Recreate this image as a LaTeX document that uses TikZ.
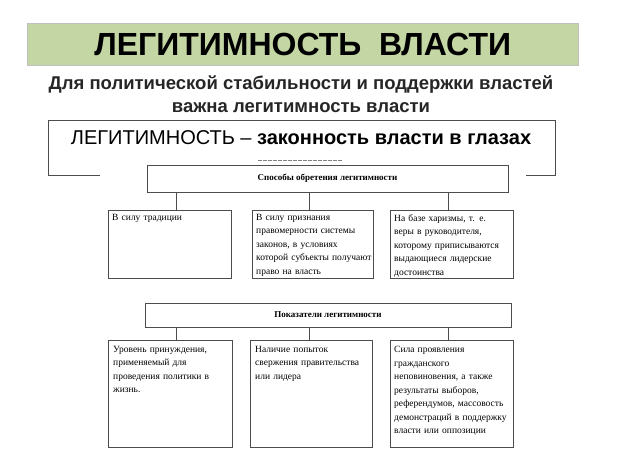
\documentclass[tikz,border=0pt]{standalone}
\usepackage{fontspec}
\setmainfont{Liberation Serif}
\newfontfamily\hsans{Liberation Sans}
\begin{document}
\begin{tikzpicture}[x=1pt,y=-1pt,
  hdr/.style={draw=black!70,line width=0.8pt,fill=white,font=\fontsize{9}{10}\selectfont\bfseries},
  boxr/.style={draw=black!70,line width=0.8pt,fill=white},
  txt/.style={anchor=north west,align=left,inner sep=0pt,font=\fontsize{9.5}{13.5}\selectfont,text width=#1},
  ln/.style={black!70,line width=0.8pt}]
\useasboundingbox (0,0) rectangle (620,464);
\fill[white] (0,0) rectangle (620,464);
\node (title) [fill={rgb,255:red,196;green,214;blue,164},draw=black!25,minimum width=551,minimum height=42,anchor=north west,
  font=\hsans\bfseries\fontsize{32}{32}\selectfont] at (27,23) {ЛЕГИТИМНОСТЬ\ \ ВЛАСТИ};
\node (sub) [align=center,font=\hsans\bfseries\fontsize{18.5}{23}\selectfont,text=black!85] at (301,94)
  {Для политической стабильности и поддержки властей\\ важна легитимность власти};
\draw[ln] (100,175) -- (48,175) -- (48,120) -- (555,120) -- (555,175) -- (526,175);
\node (def) [font=\hsans\fontsize{20}{20}\selectfont] at (301,138) {ЛЕГИТИМНОСТЬ – \textbf{законность власти в глазах}};
\draw[black!50,line width=1pt,dash pattern=on 4pt off 1pt] (258,160) -- (342,160);
% row 1
\node (h1) [hdr,minimum width=361,minimum height=27] at (327.5,178.5) {Способы обретения легитимности};
\draw[boxr] (108,210) rectangle (231,278);
\draw[boxr] (252,210) rectangle (373,278);
\draw[boxr] (390,210) rectangle (513,278);
\node (a1) [txt=116] at (112,214) {В силу традиции};
\node (a2) [txt=116] at (256,214) {В силу признания правомерности системы законов, в условиях которой субъекты получают право на власть};
\node (a3) [txt=116] at (394,214) {На базе харизмы, т. е. веры в руководителя, которому приписываются выдающиеся лидерские достоинства};
\draw[ln] (176,210) -- (h1.south -| 176,0);
\draw[ln] (309,210) -- (h1.south -| 309,0);
\draw[ln] (448,210) -- (h1.south -| 448,0);
% row 2
\node (h2) [hdr,minimum width=366,minimum height=24] at (328,315) {Показатели легитимности};
\draw[boxr] (108,340) rectangle (232,447);
\draw[boxr] (250,340) rectangle (372,447);
\draw[boxr] (390,340) rectangle (513,447);
\node (b1) [txt=116] at (113,346) {Уровень принуждения, применяемый для проведения политики в жизнь.};
\node (b2) [txt=116] at (255,346) {Наличие попыток свержения правительства или лидера};
\node (b3) [txt=116] at (394,346) {Сила проявления гражданского неповиновения, а также результаты выборов, референдумов, массовость демонстраций в поддержку власти или оппозиции};
\draw[ln] (176,340) -- (h2.south -| 176,0);
\draw[ln] (309,340) -- (h2.south -| 309,0);
\draw[ln] (448,340) -- (h2.south -| 448,0);
\end{tikzpicture}
\end{document}
